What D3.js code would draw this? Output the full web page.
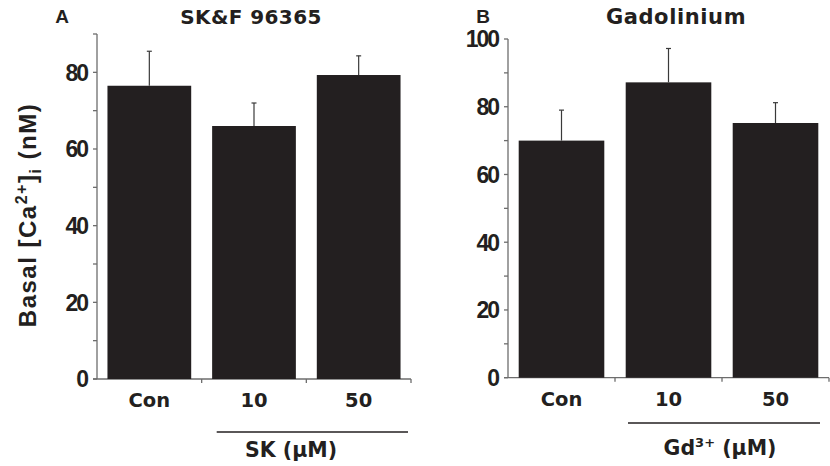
<!DOCTYPE html>
<meta charset="utf-8">
<style>
body { margin: 0; background: #fff; }
text { fill: #231f20; }
.verd { font-family: "DejaVu Sans", Verdana, sans-serif; font-weight: bold; }
.ari { font-family: "Liberation Sans", Arial, sans-serif; font-weight: bold; letter-spacing: -1.5px; }
</style>
<svg width="830" height="466"></svg>
<script src="https://cdn.jsdelivr.net/npm/d3@7"></script>
<script>
var svg = d3.select("svg");

// data
var categories = ["Con", "10", "50"];
var skMeans = [76.5, 66, 79.3];
var skErr = [9, 6, 5];
var gdMeans = [70, 87.2, 75.2];
var gdErr = [9, 10, 6];
var skTicks = [0, 20, 40, 60, 80];
var gdTicks = [0, 20, 40, 60, 80, 100];

var panels = [
  { letter: "A", title: "SK&F 96365", titleSize: 20, titleSpace: 0.4, means: skMeans, err: skErr, ticks: skTicks, max: 90,
    x0: 97, x1: 411, y0: 379, yTop: 34, letterX: 62, titleX: 251, unit: "SK", sup: null,
    lineY: 432, lineX: [216.7, 408], unitX: 291, unitY: 457 },
  { letter: "B", title: "Gadolinium", titleSize: 21, titleSpace: 0.6, means: gdMeans, err: gdErr, ticks: gdTicks, max: 100,
    x0: 508, x1: 829, y0: 377.7, yTop: 39, letterX: 483, titleX: 676, unit: "Gd", sup: "3+",
    lineY: 423, lineX: [628, 820], unitX: 720, unitY: 455 }
];

panels.forEach(function(p) {
  var g = svg.append("g");
  var x = d3.scaleBand().domain(categories).range([p.x0, p.x1]).paddingInner(0.2).paddingOuter(0.1);
  var y = d3.scaleLinear().domain([0, p.max]).range([p.y0, p.yTop]);

  // y axis
  g.append("line").attr("x1", p.x0).attr("x2", p.x0).attr("y1", y(0)).attr("y2", y(p.max))
    .attr("stroke", "#6d6d6d").attr("stroke-width", 1.3);
  var minor = d3.range(0, p.max + 1, 10);
  g.selectAll(".tk").data(minor).enter().append("line")
    .attr("x1", p.x0 - 4).attr("x2", p.x0).attr("y1", function(d) { return y(d); }).attr("y2", function(d) { return y(d); })
    .attr("stroke", "#6d6d6d").attr("stroke-width", 1.3);
  g.selectAll(".tl").data(p.ticks).enter().append("text")
    .attr("class", "ari").style("letter-spacing", "-2px")
    .attr("x", p.x0 - 10).attr("y", function(d) { return y(d); })
    .attr("dy", "0.36em").attr("text-anchor", "end").attr("font-size", "23px")
    .text(function(d) { return d; });

  // x axis
  g.append("line").attr("x1", p.x0 - 4).attr("x2", p.x1).attr("y1", y(0)).attr("y2", y(0))
    .attr("stroke", "#6d6d6d").attr("stroke-width", 1.3);
  var step = (p.x1 - p.x0) / 3;
  g.selectAll(".xt").data([1, 2, 3]).enter().append("line")
    .attr("x1", function(d) { return p.x0 + d * step; }).attr("x2", function(d) { return p.x0 + d * step; })
    .attr("y1", y(0)).attr("y2", y(0) + 4)
    .attr("stroke", "#6d6d6d").attr("stroke-width", 1.3);

  // bars
  g.selectAll(".bar").data(p.means).enter().append("rect")
    .attr("x", function(d, i) { return x(categories[i]); })
    .attr("width", x.bandwidth())
    .attr("y", function(d) { return y(d); })
    .attr("height", function(d) { return y(0) - y(d); })
    .attr("fill", "#231f20");

  // error bars
  p.means.forEach(function(m, i) {
    var cx = x(categories[i]) + x.bandwidth() / 2;
    g.append("line").attr("x1", cx).attr("x2", cx).attr("y1", y(m)).attr("y2", y(m + p.err[i]))
      .attr("stroke", "#3a3a3a").attr("stroke-width", 1.2);
    g.append("line").attr("x1", cx - 2.5).attr("x2", cx + 2.5).attr("y1", y(m + p.err[i])).attr("y2", y(m + p.err[i]))
      .attr("stroke", "#3a3a3a").attr("stroke-width", 1.2);
  });

  // category labels
  g.selectAll(".cl").data(categories).enter().append("text")
    .attr("class", "verd")
    .attr("x", function(d) { return x(d) + x.bandwidth() / 2; })
    .attr("y", y(0) + 28).attr("text-anchor", "middle").attr("font-size", "19.5px")
    .text(function(d) { return d; });

  // bracket line under treated groups
  g.append("line").attr("x1", p.lineX[0]).attr("x2", p.lineX[1])
    .attr("y1", p.lineY).attr("y2", p.lineY).attr("stroke", "#231f20").attr("stroke-width", 1.5);
  var lbl = g.append("text").attr("class", "verd").attr("font-size", "20.5px").attr("text-anchor", "middle")
    .attr("x", p.unitX).attr("y", p.unitY);
  lbl.append("tspan").text(p.unit);
  if (p.sup) lbl.append("tspan").attr("font-size", "13px").attr("dy", "-8").text(p.sup);
  lbl.append("tspan").attr("dy", p.sup ? "8" : "0").text(" (µM)");

  // titles
  svg.append("text").attr("class", "ari").style("letter-spacing", "0px").attr("x", p.letterX).attr("y", 23)
    .attr("text-anchor", "middle").attr("font-size", "19px").text(p.letter);
  svg.append("text").attr("class", "verd").attr("x", p.titleX).attr("y", 24)
    .style("letter-spacing", p.titleSpace + "px")
    .attr("text-anchor", "middle").attr("font-size", p.titleSize + "px").text(p.title);
});

// y label
var yl = svg.append("text").attr("class", "ari").style("letter-spacing", "1.5px")
  .attr("font-size", "24px").attr("text-anchor", "middle")
  .attr("transform", "translate(36,215) rotate(-90)");
yl.append("tspan").text("Basal [Ca");
yl.append("tspan").attr("font-size", "16px").attr("dy", "-9").text("2+");
yl.append("tspan").attr("dy", "9").text("]");
yl.append("tspan").attr("font-size", "16px").attr("dy", "5").text("i");
yl.append("tspan").attr("dy", "-5").text(" (nM)");
</script>
